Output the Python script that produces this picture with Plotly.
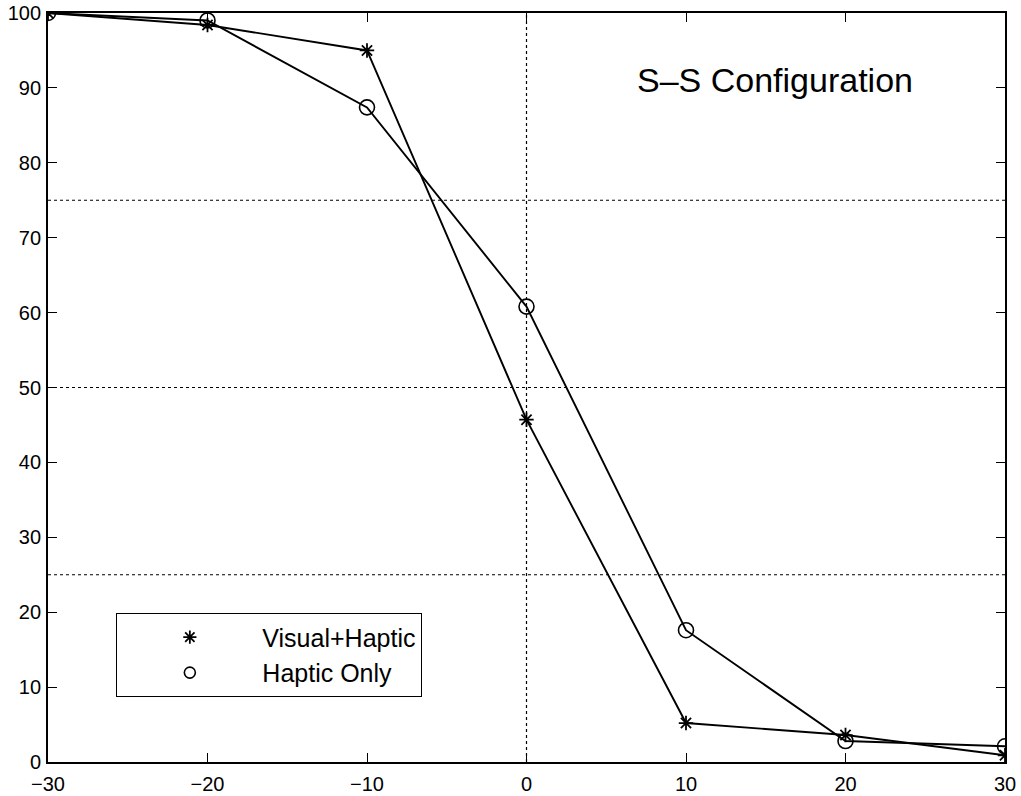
import plotly.graph_objects as go

offsets = [-30, -20, -10, 0, 10, 20, 30]
visual_haptic = [100, 98.4, 95.0, 45.7, 5.2, 3.6, 0.9]
haptic_only = [100, 99.0, 87.4, 60.8, 17.6, 2.8, 2.1]
x_ticks = [-30, -20, -10, 0, 10, 20, 30]
y_ticks = [0, 10, 20, 30, 40, 50, 60, 70, 80, 90, 100]
grid_y = [25, 50, 75]
grid_x = [0]

FONT = "Liberation Sans, Arial, Helvetica, sans-serif"

fig = go.Figure()

fig.add_trace(go.Scatter(
    x=offsets, y=visual_haptic, mode="lines+markers", name="Visual+Haptic",
    line=dict(color="black", width=1.9),
    marker=dict(symbol="asterisk-open", size=12, color="black", line=dict(color="black", width=1.8)),
    showlegend=False,
))
fig.add_trace(go.Scatter(
    x=offsets, y=haptic_only, mode="lines+markers", name="Haptic Only",
    line=dict(color="black", width=1.9),
    marker=dict(symbol="circle-open", size=15, color="black", line=dict(color="black", width=1.6)),
    showlegend=False,
))
# legend entries
fig.add_trace(go.Scatter(
    x=[None], y=[None], mode="markers", name="Visual+Haptic",
    marker=dict(symbol="asterisk-open", size=11, color="black", line=dict(color="black", width=1.8)),
))
fig.add_trace(go.Scatter(
    x=[None], y=[None], mode="markers", name="Haptic Only",
    marker=dict(symbol="circle-open", size=11, color="black", line=dict(color="black", width=1.6)),
))

for gy in grid_y:
    fig.add_shape(type="line", xref="x", yref="y", x0=x_ticks[0], x1=x_ticks[-1], y0=gy, y1=gy,
                  line=dict(color="black", width=1.2, dash="dot"), layer="below")
for gx in grid_x:
    fig.add_shape(type="line", xref="x", yref="y", x0=gx, x1=gx, y0=y_ticks[0], y1=y_ticks[-1],
                  line=dict(color="black", width=1.2, dash="dot"), layer="below")

fig.add_annotation(x=6.8, y=91.0, xref="x", yref="y", text="S\u2013S Configuration",
                   showarrow=False, xanchor="left", yanchor="middle",
                   font=dict(family=FONT, size=34, color="black"))

axis_common = dict(showline=True, linecolor="black", linewidth=1.8, mirror="ticks",
                   ticks="inside", ticklen=9, tickcolor="black", tickwidth=1.4,
                   showgrid=False, zeroline=False, automargin=False,
                   tickfont=dict(family=FONT, size=20, color="black"))

fig.update_xaxes(range=[-30, 30], tickvals=x_ticks,
                 ticktext=[str(v).replace("-", "\u2212") for v in x_ticks],
                 ticklabelstandoff=3, **axis_common)
fig.update_yaxes(range=[0, 100], tickvals=y_ticks, ticklabelstandoff=1, **axis_common)

fig.update_layout(
    width=1021, height=796,
    margin=dict(l=48, r=16, t=13, b=34),
    plot_bgcolor="white", paper_bgcolor="white",
    font=dict(family=FONT, color="black"),
    legend=dict(x=0.071, y=0.199, xanchor="left", yanchor="top",
                bgcolor="white", bordercolor="black", borderwidth=1.4,
                font=dict(family=FONT, size=25, color="black"),
                itemwidth=135, tracegroupgap=0, itemsizing="trace"),
)

fig.write_html(
    "out.html",
    config={"displayModeBar": False},
    post_script="document.body.style.margin='0';document.body.style.overflow='hidden';",
)
